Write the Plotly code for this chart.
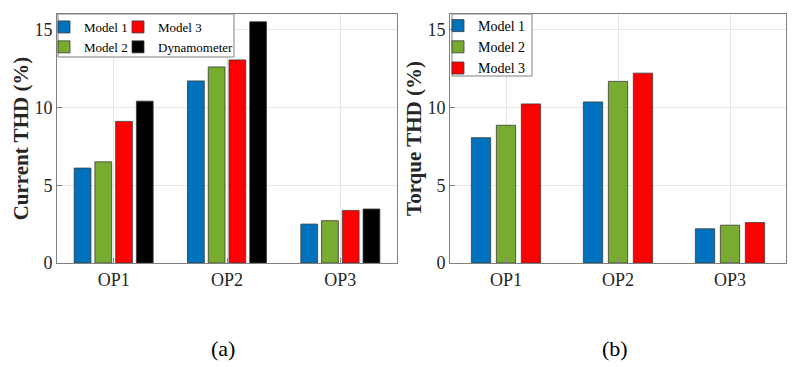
import plotly.graph_objects as go

categories = ["OP1", "OP2", "OP3"]

# (a) Current THD (%)
current_model1 = [6.1, 11.7, 2.5]
current_model2 = [6.5, 12.6, 2.72]
current_model3 = [9.1, 13.05, 3.38]
current_dyn = [10.4, 15.5, 3.47]

# (b) Torque THD (%)
torque_model1 = [8.05, 10.35, 2.2]
torque_model2 = [8.85, 11.67, 2.43]
torque_model3 = [10.22, 12.2, 2.6]

y_ticks = [0, 5, 10, 15]

series_names = ["Model 1", "Model 2", "Model 3", "Dynamometer"]
colors = ["#0072BD", "#77AC30", "#FF0000", "#000000"]

FONT = "Liberation Serif"
EDGE = dict(color="#3a3a3a", width=0.8)

# page has an 8px body margin: figure sized to fill the rest of the window
PAGE_OFF = 8
W, H = 798 - PAGE_OFF, 367 - PAGE_OFF


def px(x):   # window x -> paper fraction
    return (x - PAGE_OFF) / W


def py(y):   # window y -> paper fraction
    return 1 - (y - PAGE_OFF) / H


fig = go.Figure()

# left panel
left_vals = [current_model1, current_model2, current_model3, current_dyn]
slot_l, width_l = 0.183, 0.148
left_legends = ["legend", "legend", "legend3", "legend3"]
for i, (name, vals, col) in enumerate(zip(series_names, left_vals, colors)):
    off = -2 * slot_l + i * slot_l + (slot_l - width_l) / 2
    fig.add_trace(go.Bar(
        x=list(range(len(categories))), y=vals, name=name,
        marker=dict(color=col, line=EDGE),
        width=width_l, offset=off,
        xaxis="x", yaxis="y", legend=left_legends[i],
    ))

# right panel
right_vals = [torque_model1, torque_model2, torque_model3]
slot_r, width_r = 0.223, 0.172
for i, (name, vals, col) in enumerate(zip(series_names[:3], right_vals, colors[:3])):
    off = -1.5 * slot_r + i * slot_r + (slot_r - width_r) / 2
    fig.add_trace(go.Bar(
        x=list(range(len(categories))), y=vals, name=name,
        marker=dict(color=col, line=EDGE),
        width=width_r, offset=off,
        xaxis="x2", yaxis="y2", legend="legend2",
    ))

axis_common = dict(
    showline=True, mirror=True, linecolor="#808080", linewidth=1,
    ticks="inside", ticklen=5, tickcolor="#808080",
    showgrid=True, gridcolor="#e6e6e6", gridwidth=1,
    zeroline=False, automargin=False,
    tickfont=dict(family=FONT, size=18, color="#262626"),
)

xd1 = [px(57), px(397)]
xd2 = [px(450), px(786)]
yd = [py(263), py(14)]

legend_common = dict(
    xanchor="left", yanchor="top", orientation="v", tracegroupgap=0,
    bgcolor="rgba(0,0,0,0)", borderwidth=0,
)


def box(x0, y0, x1, y1):
    return dict(type="rect", xref="paper", yref="paper", layer="above",
                x0=px(x0), x1=px(x1), y0=py(y1), y1=py(y0),
                fillcolor="white", line=dict(color="#808080", width=1))


fig.update_layout(
    width=W, height=H,
    margin=dict(l=0, r=0, t=0, b=0, autoexpand=False),
    paper_bgcolor="white", plot_bgcolor="white",
    barmode="overlay",
    font=dict(family=FONT, color="#262626"),
    xaxis=dict(domain=xd1, anchor="y", range=[-0.5, 2.5],
               tickmode="array", tickvals=list(range(len(categories))),
               ticktext=categories, **axis_common),
    yaxis=dict(domain=yd, anchor="x", range=[0, 16],
               tickmode="array", tickvals=y_ticks,
               title=dict(text="<b>Current THD (%)</b>", standoff=0,
                          font=dict(family=FONT, size=21, color="#262626")),
               **axis_common),
    xaxis2=dict(domain=xd2, anchor="y2", range=[-0.5, 2.5],
                tickmode="array", tickvals=list(range(len(categories))),
                ticktext=categories, **axis_common),
    yaxis2=dict(domain=yd, anchor="x2", range=[0, 16],
                tickmode="array", tickvals=y_ticks,
                title=dict(text="<b>Torque THD (%)</b>", standoff=0,
                           font=dict(family=FONT, size=21, color="#262626")),
                **axis_common),
    legend=dict(x=px(44), y=py(12),
                font=dict(family=FONT, size=13, color="#000000"), **legend_common),
    legend3=dict(x=px(118), y=py(12),
                 font=dict(family=FONT, size=13, color="#000000"), **legend_common),
    legend2=dict(x=px(438), y=py(10),
                 font=dict(family=FONT, size=14, color="#000000"), **legend_common),
    shapes=[box(58, 14, 234, 57), box(452, 14, 532, 76)],
    annotations=[
        dict(text="(a)", x=px(223), y=py(348), xref="paper", yref="paper",
             xanchor="center", yanchor="middle",
             showarrow=False, font=dict(family=FONT, size=22, color="#000000")),
        dict(text="(b)", x=px(615), y=py(348), xref="paper", yref="paper",
             xanchor="center", yanchor="middle",
             showarrow=False, font=dict(family=FONT, size=22, color="#000000")),
    ],
)

fig.write_html("out.html")
